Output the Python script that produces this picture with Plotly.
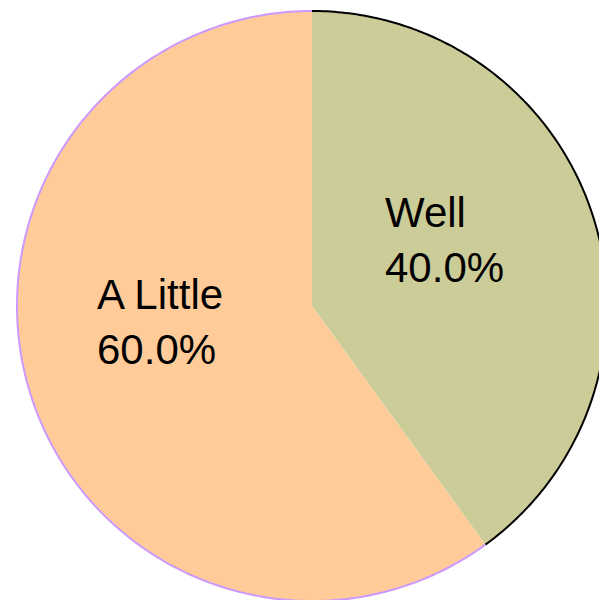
import math
import plotly.graph_objects as go

labels = ["Well", "A Little"]
values = [40, 60]
colors = ["#cccc99", "#ffcc99"]
outline_colors = ["#000000", "#cc99ff"]

W, H = 624, 612
CX, CY, R = 312, 306, 295
# label anchor points (left edge, vertical middle) in pixels
label_pos = [(383, 240), (95, 322)]

fig = go.Figure()
fig.add_trace(go.Pie(
    labels=labels, values=values, sort=False, direction="clockwise", rotation=0,
    marker=dict(colors=colors, line=dict(width=0)),
    textinfo="none",
    domain=dict(x=[0, 1], y=[(H - CY - R) / H, (H - CY + R) / H]),
    showlegend=False, hoverinfo="label+percent",
))

total = sum(values)
start = 0.0
shapes = []
annotations = []
for v, c, lab, (lx, ly) in zip(values, outline_colors, labels, label_pos):
    a0 = start / total * 2 * math.pi
    a1 = (start + v) / total * 2 * math.pi
    n = 200
    pts = []
    for i in range(n + 1):
        a = a0 + (a1 - a0) * i / n
        px = CX + R * math.sin(a)
        py = CY - R * math.cos(a)
        pts.append((px / W, 1 - py / H))
    path = "M " + " L ".join(f"{x:.5f},{y:.5f}" for x, y in pts)
    shapes.append(dict(type="path", xref="paper", yref="paper", path=path,
                       line=dict(color=c, width=2), layer="above"))
    annotations.append(dict(
        text=f"{lab}<br>{v / total * 100:.1f}%", xref="paper", yref="paper",
        x=lx / W, y=1 - ly / H, xanchor="left", yanchor="middle", align="left",
        showarrow=False, font=dict(family="Liberation Sans, Arial", size=42, color="#000000"),
    ))
    start += v

fig.update_layout(
    width=W, height=H, margin=dict(l=0, r=0, t=0, b=0),
    paper_bgcolor="white", plot_bgcolor="white", shapes=shapes, annotations=annotations,
)
fig.write_html("out.html", post_script="document.body.style.overflow='hidden';document.body.style.margin='0';")
